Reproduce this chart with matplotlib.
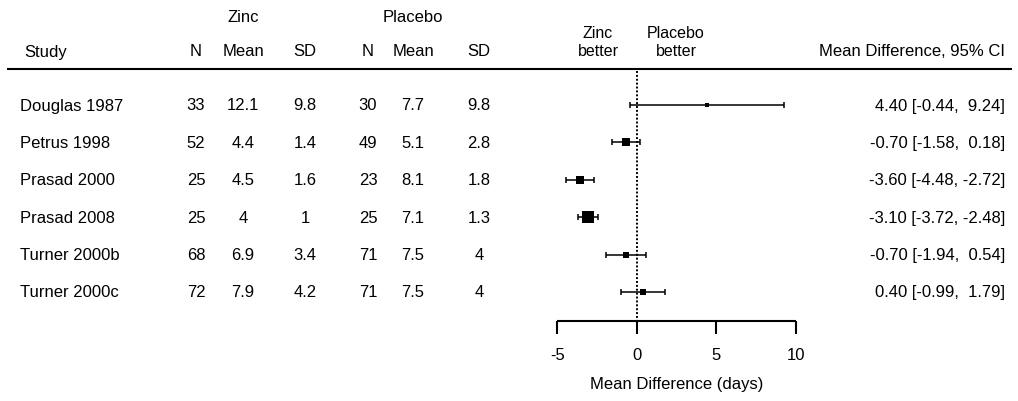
import matplotlib
matplotlib.use("Agg")
import matplotlib.pyplot as plt
import matplotlib.transforms as mtransforms
import numpy as np

studies = ["Douglas 1987", "Petrus 1998", "Prasad 2000", "Prasad 2008",
           "Turner 2000b", "Turner 2000c"]
zinc_n = [33, 52, 25, 25, 68, 72]
zinc_mean = ["12.1", "4.4", "4.5", "4", "6.9", "7.9"]
zinc_sd = ["9.8", "1.4", "1.6", "1", "3.4", "4.2"]
plac_n = [30, 49, 23, 25, 71, 71]
plac_mean = ["7.7", "5.1", "8.1", "7.1", "7.5", "7.5"]
plac_sd = ["9.8", "2.8", "1.8", "1.3", "4", "4"]
md = [4.40, -0.70, -3.60, -3.10, -0.70, 0.40]
ci_lo = [-0.44, -1.58, -4.48, -3.72, -1.94, -0.99]
ci_hi = [9.24, 0.18, -2.72, -2.48, 0.54, 1.79]
xticks = [-5, 0, 5, 10]

W, H = 1018, 402
FONT = ["Liberation Sans", "DejaVu Sans"]
plt.rcParams["font.family"] = FONT

fig = plt.figure(figsize=(W / 100, H / 100), dpi=100)
ax = fig.add_axes([0, 0, 1, 1])
ax.axis("off")

# pixel layout -> data limits
x0px, ppu = 637.0, 15.9       # pixel of 0 and pixels per day
row0, rstep = 106.0, 37.4     # first row pixel and row spacing
ax.set_xlim(-x0px / ppu, (W - x0px) / ppu)
ax.set_ylim((H - row0) / rstep, -row0 / rstep)


def py(p):
    # pixel y -> data y
    return (p - row0) / rstep


tr = mtransforms.blended_transform_factory(ax.transAxes, ax.transData)


def fx(p):
    return p / W


# headers
fs = 12
ax.text(fx(243), py(18), "Zinc", transform=tr, ha="center", va="center", fontsize=fs)
ax.text(fx(413), py(18), "Placebo", transform=tr, ha="center", va="center", fontsize=fs)
hdr_y = py(52)
ax.text(fx(24), hdr_y, "Study", transform=tr, ha="left", va="center", fontsize=fs)
for xp, lab in [(196, "N"), (243, "Mean"), (305, "SD"),
                (368, "N"), (413, "Mean"), (479, "SD")]:
    ax.text(fx(xp), hdr_y, lab, transform=tr, ha="center", va="center", fontsize=fs)
for xp, top, bot in [(598, "Zinc", "better"), (676, "Placebo", "better")]:
    ax.text(fx(xp), py(34), top, transform=tr, ha="center", va="center", fontsize=11.5)
    ax.text(fx(xp), py(52), bot, transform=tr, ha="center", va="center", fontsize=11.5)
ax.text(fx(1005), hdr_y, "Mean Difference, 95% CI", transform=tr, ha="right",
        va="center", fontsize=fs)
ax.plot([fx(7), fx(1012)], [py(70), py(70)], transform=tr, color="black", lw=1.5,
        solid_capstyle="butt")

# table rows
rows = np.arange(len(studies))
for i in rows:
    ax.text(fx(20), i, studies[i], transform=tr, ha="left", va="center", fontsize=fs)
    for xp, val in [(196, zinc_n[i]), (243, zinc_mean[i]), (305, zinc_sd[i]),
                    (368, plac_n[i]), (413, plac_mean[i]), (479, plac_sd[i])]:
        ax.text(fx(xp), i, str(val), transform=tr, ha="center", va="center", fontsize=fs)
    txt = "{:.2f} [{:5.2f}, {:5.2f}]".format(md[i], ci_lo[i], ci_hi[i])
    ax.text(fx(1005), i, txt, transform=tr, ha="right", va="center", fontsize=fs)

# reference line
ax.plot([0, 0], [py(72), py(322)], color="black", lw=1.4, ls=(0, (1, 1)))

# CIs and squares, square side linear in inverse-variance weight
md_a, lo_a, hi_a = np.array(md), np.array(ci_lo), np.array(ci_hi)
se = (hi_a - lo_a) / 3.92
w = 1 / se ** 2
side_px = 4 + 7.7 * (w - w.min()) / (w.max() - w.min())
ax.errorbar(md_a, rows, xerr=[md_a - lo_a, hi_a - md_a], fmt="none",
            ecolor="black", elinewidth=1.1, capsize=2.3, capthick=1.1)
for i in rows:
    ax.plot(md_a[i], i, marker="s", color="black", ls="none",
            markersize=side_px[i] / 1.389, markeredgewidth=0)

# x axis
ay = py(322)
ax.plot([xticks[0], xticks[-1]], [ay, ay], color="black", lw=1.5, solid_capstyle="butt")
for t in xticks:
    ax.plot([t, t], [ay, py(335)], color="black", lw=1.5, solid_capstyle="butt")
    ax.text(t, py(356), str(t), ha="center", va="center", fontsize=fs)
ax.text(2.5, py(385), "Mean Difference (days)", ha="center", va="center", fontsize=fs)

fig.savefig("out.png", dpi=100)
